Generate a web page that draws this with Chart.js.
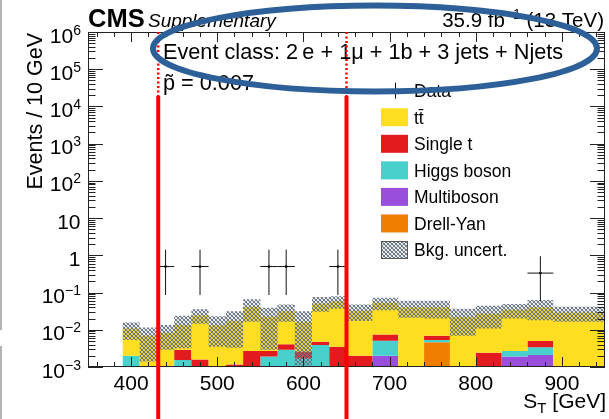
<!DOCTYPE html>
<html><head><meta charset="utf-8">
<script src="https://cdn.jsdelivr.net/npm/chart.js@4/dist/chart.umd.min.js"></script>
<style>html,body{margin:0;padding:0;background:#fff;}canvas{display:block}</style>
</head><body>
<canvas id="c" width="609" height="419"></canvas>
<script>
// ---- data (Events / 10 GeV) ----
const binEdges = [390,410,430,450,470,490,510,530,550,570,590,610,630,650,680,710,740,770,800,830,860,890,920,950];
const drellYan   = [0,0,0,0,0,0,0,0,0,0,0,0,0,0,0,0,0,0.0046,0,0,0,0,0];
const multiboson = [0,0,0,0,0,0,0,0,0,0,0,0,0,0,0,0.0020,0,0,0,0,0.0019,0.0021,0];
const higgs      = [0,0.0020,0,0,0.00154,0,0,0,0,0.0019,0.0029,0.0017,0.0039,0,0,0.0031,0,0.0007,0,0,0.0008,0.0013,0];
const singleTop  = [0,0,0,0,0.00136,0.0016,0,0.00117,0.0027,0.0008,0.0012,0.0009,0.0009,0.0035,0.0020,0.0024,0,0.0016,0,0.0024,0,0.0016,0];
const ttbar      = [0.0083,0.0089,0.0070,0.0083,0.0105,0.0230,0.0133,0.0163,0.0386,0.0197,0.0276,0.0139,0.0460,0.0550,0.0307,0.0455,0.0400,0.0331,0.0220,0.0251,0.0318,0.0350,0.0290];
const uncLow     = [0.0016,0.0053,0.0014,0.0029,0.0032,0.0145,0.0035,0.0033,0.0164,0.0029,0.0164,0.0011,0.0304,0.037,0.0173,0.0337,0.021,0.0202,0.0069,0.0109,0.0202,0.018,0.0164];
const uncHigh    = [0.0149,0.0158,0.0116,0.0134,0.0237,0.0355,0.0232,0.0317,0.066,0.039,0.0479,0.0317,0.0765,0.080,0.048,0.072,0.0598,0.0598,0.037,0.044,0.049,0.0627,0.0413];
const dataX      = [440,480,560,580,640,875];
const dataY      = [0.5,0.5,0.5,0.5,0.5,0.333];
const dataLow    = [0.086,0.086,0.086,0.086,0.086,0.058];
const dataHigh   = [1.42,1.42,1.42,1.42,1.42,0.947];
const dataHalfW  = [10,10,10,10,10,15];
const roiBounds  = [431.5, 650];
const xTickLabels = ['400','500','600','700','800','900'];
const yTickExp   = [-3,-2,-1,0,1,2,3,4,5,6];

// ---- helpers ----
const FONT = '"Liberation Sans", Arial, Helvetica, sans-serif';
function cumulate(list){
  const out=[]; let run=binEdges.slice(0,-1).map(()=>0);
  for(const arr of list){ run=run.map((v,i)=>v+arr[i]); out.push(run.slice()); }
  return out;
}
function steps(vals){
  return binEdges.map((e,i)=>({x:e, y:Math.max(vals[Math.min(i,vals.length-1)],1e-5)}));
}
function makeHatch(bg){
  const c=document.createElement('canvas'); c.width=4; c.height=4;
  const g=c.getContext('2d');
  if(bg){g.fillStyle=bg; g.fillRect(0,0,4,4);}
  g.fillStyle='rgba(95,110,128,0.9)';
  for(let i=0;i<4;i++){g.fillRect(i,i,1,1); g.fillRect(3-i,i,1,1);}
  g.fillStyle='rgba(150,162,175,0.45)';
  g.fillRect(1,0,1,1); g.fillRect(0,1,1,1); g.fillRect(2,3,1,1); g.fillRect(3,2,1,1);
  return g.createPattern(c,'repeat');
}
const cums = cumulate([drellYan,multiboson,higgs,singleTop,ttbar]);
const colors = {dy:'#f07c00', mb:'#9a4fdc', hg:'#48d1cc', st:'#e31b1f', tt:'#ffde21'};
const hatch = makeHatch(null);

const errPts=[];
dataX.forEach((cx,i)=>{
  errPts.push({x:cx,y:dataLow[i]},{x:cx,y:dataHigh[i]},{x:cx,y:null});
  errPts.push({x:cx-dataHalfW[i],y:dataY[i]},{x:cx+dataHalfW[i],y:dataY[i]},{x:cx,y:null});
});

const stackDs=(vals,color,fill,order)=>({data:steps(vals),stepped:'after',backgroundColor:color,borderColor:'rgba(0,0,0,0)',borderWidth:0,fill:fill,pointRadius:0,order:order});

const datasets=[
  stackDs(cums[0],colors.dy,'start',10),
  stackDs(cums[1],colors.mb,'-1',9),
  stackDs(cums[2],colors.hg,'-1',8),
  stackDs(cums[3],colors.st,'-1',7),
  stackDs(cums[4],colors.tt,'-1',6),
  {data:steps(uncLow),stepped:'after',borderColor:'rgba(0,0,0,0)',borderWidth:0,fill:false,pointRadius:0,order:5},
  {data:steps(uncHigh),stepped:'after',borderColor:'rgba(0,0,0,0)',borderWidth:0,backgroundColor:hatch,fill:'-1',pointRadius:0,order:4},
  {data:errPts,borderColor:'#111',borderWidth:1,fill:false,pointRadius:0,spanGaps:false,order:2},
  {data:dataX.map((x,i)=>({x:x,y:dataY[i]})),showLine:false,pointStyle:'rect',pointRadius:1.6,backgroundColor:'#000',borderColor:'#000',borderWidth:0,order:1}
];

function runs(ctx,parts,x,y,align){
  let w=0; parts.forEach(p=>{ctx.font=p.f; p.w=ctx.measureText(p.t).width; w+=p.w;});
  let cx = align==='right'? x-w : (align==='center'? x-w/2 : x);
  ctx.textAlign='left';
  parts.forEach(p=>{ctx.font=p.f; ctx.fillText(p.t,cx,y+(p.dy||0)); cx+=p.w;});
}

const overlay={id:'overlay',afterDraw(chart){
  const {ctx,chartArea:a,scales:{x,y}}=chart;
  ctx.save();
  // left grey border artefact
  ctx.strokeStyle='#b4b4b4'; ctx.lineWidth=2;
  ctx.beginPath(); ctx.moveTo(1,0); ctx.lineTo(1,330); ctx.moveTo(1,346); ctx.lineTo(1,419); ctx.stroke();
  // ticks
  ctx.strokeStyle='#222'; ctx.lineWidth=1;
  ctx.beginPath();
  for(let v=360; v<=940; v+=20){
    const px=Math.round(x.getPixelForValue(v))+0.5; const len=(v%100===0)?10:5;
    ctx.moveTo(px,a.bottom); ctx.lineTo(px,a.bottom-len);
    ctx.moveTo(px,a.top); ctx.lineTo(px,a.top+len);
  }
  for(let e=-3;e<=6;e++){
    for(let m=1;m<=9;m++){
      if(e===6 && m>1) break;
      const v=m*Math.pow(10,e);
      const py=Math.round(y.getPixelForValue(v))+0.5; const len=(m===1)?15:7.5;
      ctx.moveTo(a.left,py); ctx.lineTo(a.left+len,py);
      ctx.moveTo(a.right,py); ctx.lineTo(a.right-len,py);
    }
  }
  ctx.stroke();
  // frame
  ctx.strokeRect(a.left+0.5,a.top+0.5,a.right-a.left-1,a.bottom-a.top-1);
  // tick labels
  ctx.fillStyle='#000'; ctx.textBaseline='alphabetic';
  xTickLabels.forEach(t=>{
    ctx.font='21px '+FONT; ctx.textAlign='center';
    ctx.fillText(t,x.getPixelForValue(+t),390);
  });
  yTickExp.forEach(e=>{
    const py=y.getPixelForValue(Math.pow(10,e))+10.5;
    if(e===0) runs(ctx,[{t:'1',f:'21px '+FONT}],80.5,py,'right');
    else if(e===1) runs(ctx,[{t:'10',f:'21px '+FONT}],80.5,py,'right');
    else runs(ctx,[{t:'10',f:'21px '+FONT},{t:(e<0?'\u2212':'')+Math.abs(e),f:'14px '+FONT,dy:-8}],81,py,'right');
  });
  // axis titles
  runs(ctx,[{t:'S',f:'21px '+FONT},{t:'T',f:'15px '+FONT,dy:5},{t:' [GeV]',f:'21px '+FONT}],606,408,'right');
  ctx.save(); ctx.translate(41.5,33); ctx.rotate(-Math.PI/2);
  ctx.font='21.5px '+FONT; ctx.textAlign='right'; ctx.fillText('Events / 10 GeV',0,0); ctx.restore();
  // header
  ctx.textAlign='left';
  ctx.font='bold 25.5px '+FONT; ctx.fillText('CMS',88,27);
  ctx.font='italic 19px '+FONT; ctx.fillText('Supplementary',148,27);
  runs(ctx,[{t:'35.9 fb',f:'20.5px '+FONT},{t:'\u22121',f:'14px '+FONT,dy:-8},{t:' (13 TeV)',f:'20.5px '+FONT}],604,27,'right');
  // inside texts
  ctx.font='21.7px '+FONT; ctx.textAlign='left';
  ctx.fillText('Event class: 2\u2009e + 1\u03bc + 1b + 3 jets + Njets',163,59);
  ctx.fillText('p\u0303 = 0.007',163,90);
  // legend
  const lx=381, lw=27, lh=18, tx=414;
  const rows=[['Data',null],['tt\u0304',colors.tt],['Single t',colors.st],['Higgs boson',colors.hg],['Multiboson',colors.mb],['Drell-Yan',colors.dy],['Bkg. uncert.','hatch']];
  rows.forEach((r,i)=>{
    const cy=90.7+i*26.55;
    if(r[1]===null){
      ctx.strokeStyle='#000'; ctx.lineWidth=1; ctx.beginPath(); ctx.moveTo(395.5,cy-8); ctx.lineTo(395.5,cy+8); ctx.stroke();
    } else if(r[1]==='hatch'){
      ctx.fillStyle='#fff'; ctx.fillRect(lx,cy-lh/2,lw,lh);
      ctx.fillStyle=hatch; ctx.fillRect(lx,cy-lh/2,lw,lh);
      ctx.strokeStyle='#555'; ctx.lineWidth=1; ctx.strokeRect(lx+0.5,cy-lh/2+0.5,lw-1,lh-1);
    } else {
      ctx.fillStyle=r[1]; ctx.fillRect(lx,cy-lh/2,lw,lh);
    }
    ctx.fillStyle='#000'; ctx.font='17.5px '+FONT; ctx.textAlign='left';
    ctx.fillText(r[0],tx,cy+6.3);
  });
  // region-of-interest red lines
  const ySolidTop=y.getPixelForValue(1.9e4);
  ctx.strokeStyle='#ff0000';
  roiBounds.forEach(b=>{
    const px=x.getPixelForValue(b);
    ctx.lineWidth=2.5; ctx.setLineDash([2,2.5]);
    ctx.beginPath(); ctx.moveTo(px,a.top); ctx.lineTo(px,ySolidTop); ctx.stroke();
    ctx.setLineDash([]); ctx.lineWidth=4;
    ctx.beginPath(); ctx.moveTo(px,ySolidTop); ctx.lineTo(px,chart.height); ctx.stroke();
  });
  // blue ellipse annotation
  ctx.strokeStyle='#2d5f98'; ctx.lineWidth=6;
  ctx.beginPath(); ctx.ellipse(375,48.5,222,43,0,0,Math.PI*2); ctx.stroke();
  ctx.restore();
}};

new Chart(document.getElementById('c'),{
  type:'line',
  data:{datasets},
  options:{
    responsive:false, animation:false, devicePixelRatio:1,
    layout:{padding:{left:88,right:4,top:32,bottom:52}},
    plugins:{legend:{display:false},tooltip:{enabled:false}},
    scales:{
      x:{type:'linear',min:350,max:950,display:false},
      y:{type:'logarithmic',min:1e-3,max:1e6,display:false}
    }
  },
  plugins:[overlay]
});
</script>
</body></html>
